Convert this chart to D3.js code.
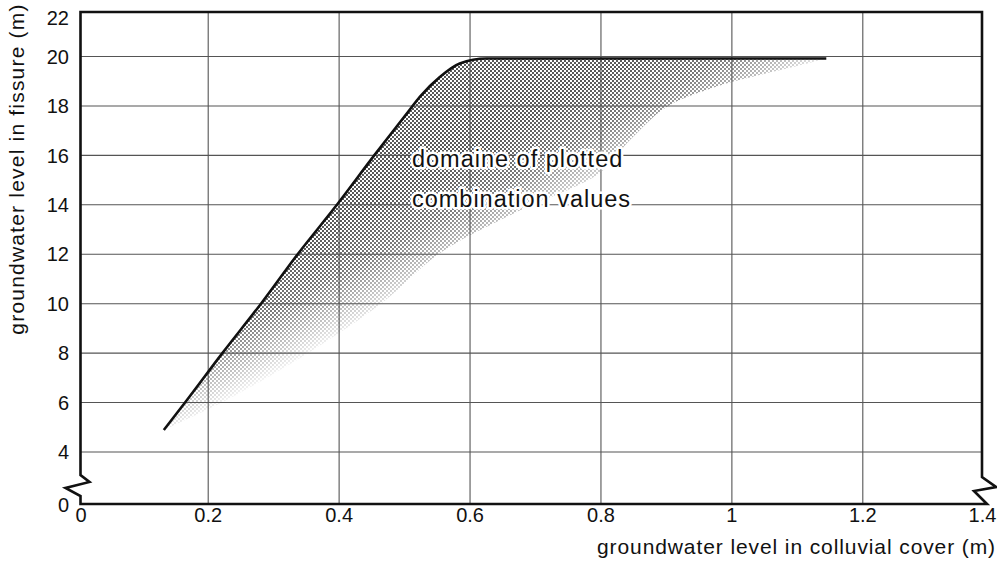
<!DOCTYPE html>
<html>
<head>
<meta charset="utf-8">
<script src="https://cdn.jsdelivr.net/npm/d3@7"></script>
<style>
body { margin:0; background:#fff; }
svg { display:block; }
text { font-family:"Liberation Sans", Arial, sans-serif; fill:#111; }
</style>
</head>
<body>
<svg id="graph"></svg>
<script>
// tick labels and grid steps
let xticks = [0,0.2,0.4,0.6,0.8,1,1.2,1.4]
let yticks = [0,4,6,8,10,12,14,16,18,20,22]
let xgrid = [0.2,0.4,0.6,0.8,1,1.2]
let ygrid = [4,6,8,10,12,14,16,18,20]

// limit line (colluvial cover level, fissure level)
let limitx = [0.131,0.165,0.223,0.282,0.338,0.398,0.455,0.505,0.524,0.555,0.585,0.626,1.145]
let limity = [4.87,6,8,10,12,14,16,17.7,18.35,19.16,19.7,19.9,19.9]

// lower right edge of the shaded domain
let edgex = [0.131,0.229,0.356,0.468,0.555,0.669,0.799,0.845,0.901,0.982,1.094,1.145]
let edgey = [4.87,6.08,8.03,10.05,12.03,13.65,15.27,16.6,17.94,18.8,19.55,19.9]

let label = ["domaine of plotted","combination values"]
let labelpos = [0.512,15.5]

let xtitle = "groundwater level in colluvial cover (m)"
let ytitle = "groundwater level in fissure (m)"

let w = 997
let h = 569

// both axes are broken, so the end steps are shorter than the grid steps
let xscale = d3.scaleLinear().domain([0,0.2,1.2,1.4]).range([80.5,207.7,862.3,982])
let yscale = d3.scaleLinear().domain([0,4,20,22]).range([504,451.5,56,12])

let x0 = xscale(0), x1 = xscale(1.4)
let y0 = yscale(0), y1 = yscale(22)

let graph = d3.select("#graph")
    .attr("width",w)
    .attr("height",h)

let defs = graph.append("defs")

// halftone dots
let pattern = defs.append("pattern")
    .attr("id","dots")
    .attr("patternUnits","userSpaceOnUse")
    .attr("width",4)
    .attr("height",4)
pattern.append("circle").attr("cx",1).attr("cy",1).attr("r",0.95).attr("fill","#111")
pattern.append("circle").attr("cx",3).attr("cy",3).attr("r",0.95).attr("fill","#111")

// fade the dots towards the lower right edge
let p0 = [xscale(edgex[0]),yscale(edgey[0])]
let p1 = [xscale(edgex[edgex.length-1]),yscale(edgey[edgey.length-1])]
let len = Math.hypot(p1[0]-p0[0],p1[1]-p0[1])
let nx = -(p1[1]-p0[1])/len
let ny = (p1[0]-p0[0])/len
let fade = 95

let grad = defs.append("linearGradient")
    .attr("id","fadegrad")
    .attr("gradientUnits","userSpaceOnUse")
    .attr("x1",p0[0]-nx*fade).attr("y1",p0[1]-ny*fade)
    .attr("x2",p0[0]+nx*5).attr("y2",p0[1]+ny*5)
grad.append("stop").attr("offset",0).attr("stop-color","#fff")
grad.append("stop").attr("offset",0.45).attr("stop-color","#ccc")
grad.append("stop").attr("offset",1).attr("stop-color","#111")

defs.append("mask")
    .attr("id","fade")
    .append("rect")
    .attr("width",w)
    .attr("height",h)
    .attr("fill","url(#fadegrad)")

let upper = d3.line()
    .x(d=>xscale(d[0]))
    .y(d=>yscale(d[1]))
    .curve(d3.curveMonotoneX)

let lower = d3.line()
    .x(d=>xscale(d[0]))
    .y(d=>yscale(d[1]))
    .curve(d3.curveCatmullRom)

let limit = limitx.map((d,i)=>[d,limity[i]])
let edge = edgex.map((d,i)=>[d,edgey[i]]).reverse()

graph.append("path")
    .attr("d",upper(limit)+lower(edge).replace("M","L")+"Z")
    .attr("fill","url(#dots)")
    .attr("mask","url(#fade)")

// grid
let xgridaxis = d3.axisBottom(xscale).tickValues(xgrid).tickSize(-(y0-y1)).tickFormat("")
graph.append("g")
    .attr("transform",`translate(0,${y0})`)
    .call(xgridaxis)
    .call(g=>g.select(".domain").remove())
    .selectAll("line")
    .attr("stroke","#555")
    .attr("stroke-width",1.1)

let ygridaxis = d3.axisLeft(yscale).tickValues(ygrid).tickSize(-(x1-x0)).tickFormat("")
graph.append("g")
    .attr("transform",`translate(${x0},0)`)
    .call(ygridaxis)
    .call(g=>g.select(".domain").remove())
    .selectAll("line")
    .attr("stroke","#555")
    .attr("stroke-width",1.1)

// limit line
graph.append("path")
    .attr("d",upper(limit))
    .attr("fill","none")
    .attr("stroke","#111")
    .attr("stroke-width",2.6)

// frame with the break marks
let frame = [
    [x0,y0],[x0,y0-8],[x0-15,y0-16],[x0+9,y0-22],[x0,y0-29],
    [x0,y1],[x1,y1],
    [x1,y0-27],[x1+14,y0-17],[x1-8,y0-13],[x1+5,y0]
]
graph.append("path")
    .attr("d",d3.line()(frame)+"Z")
    .attr("fill","none")
    .attr("stroke","#111")
    .attr("stroke-width",2.6)
    .attr("stroke-linejoin","miter")

// tick labels
let xaxis = d3.axisBottom(xscale).tickValues(xticks).tickSize(0).tickFormat(d3.format("~g"))
graph.append("g")
    .attr("transform","translate(0,522)")
    .call(xaxis)
    .attr("font-size",20)
    .call(g=>g.select(".domain").remove())
    .selectAll("text")
    .attr("y",0)
    .attr("dy",null)

let yaxis = d3.axisLeft(yscale).tickValues(yticks).tickSize(0).tickFormat(d3.format("~g"))
graph.append("g")
    .attr("transform","translate(69,0)")
    .call(yaxis)
    .attr("font-size",20)
    .call(g=>g.select(".domain").remove())
    .selectAll("text")
    .attr("x",0)
    .attr("dy",d=>d==22 ? "0.6em" : "0.36em")

// axis titles
graph.append("text")
    .text(xtitle)
    .attr("x",996)
    .attr("y",554)
    .attr("text-anchor","end")
    .style("font-size","21px")
    .style("letter-spacing","0.9px")

graph.append("text")
    .text(ytitle)
    .attr("transform","translate(24,169) rotate(-90)")
    .attr("text-anchor","middle")
    .style("font-size","21px")
    .style("letter-spacing","1.2px")

// annotation inside the domain
graph.append("g")
    .selectAll("text")
    .data(label)
    .enter().append("text")
    .text(d=>d)
    .attr("x",xscale(labelpos[0]))
    .attr("y",(d,i)=>yscale(labelpos[1])+i*40)
    .style("font-size","23.5px")
    .style("letter-spacing","1px")
    .attr("stroke","#fff")
    .attr("stroke-width",5)
    .attr("stroke-linejoin","round")
    .attr("paint-order","stroke")
</script>
</body>
</html>
